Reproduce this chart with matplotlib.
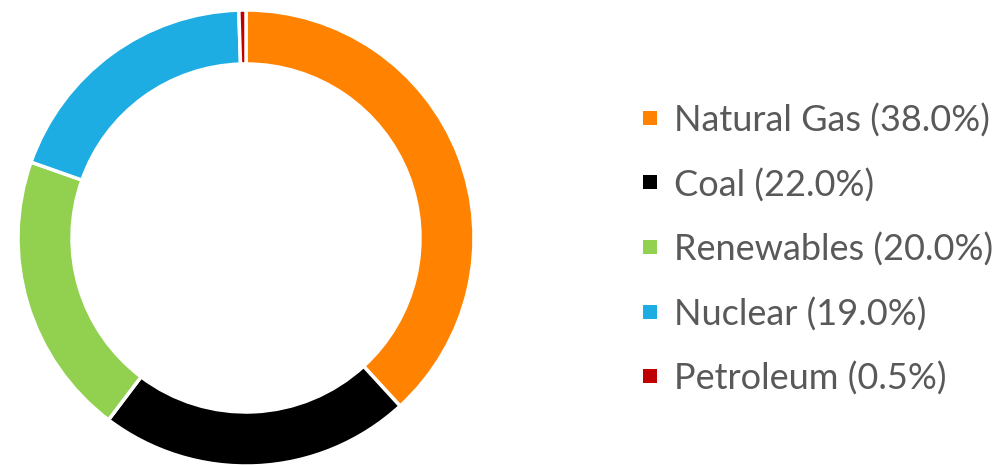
import matplotlib
matplotlib.use("Agg")
import matplotlib.pyplot as plt
from matplotlib.patches import Rectangle

# data
sources = ["Natural Gas", "Coal", "Renewables", "Nuclear", "Petroleum"]
shares = [38.0, 22.0, 20.0, 19.0, 0.5]
colors = ["#FF8300", "#000000", "#92D050", "#1EADE3", "#C00000"]

W, H = 1002, 465
fig = plt.figure(figsize=(W / 100, H / 100), dpi=100)
ax = fig.add_axes([0, 0, 1, 1])
ax.axis("off")

# donut, clockwise from 12 o'clock
ax.pie(shares, colors=colors, startangle=90, counterclock=False,
       center=(246, H - 238), radius=228, normalize=True,
       wedgeprops=dict(width=54, edgecolor="white", linewidth=2.5))
ax.set_xlim(0, W)
ax.set_ylim(0, H)
ax.set_aspect("auto")

# legend drawn by hand
y0, pitch = H - 118, 64.5
for i, (name, val, c) in enumerate(zip(sources, shares, colors)):
    y = y0 - i * pitch
    ax.add_patch(Rectangle((643, y - 7), 14, 14, fc=c, ec="none"))
    ax.text(674, y, f"{name} ({val:.1f}%)", fontsize=26, family="Lato",
            color="#595959", va="center_baseline", ha="left")

fig.savefig("out.png", dpi=100)
